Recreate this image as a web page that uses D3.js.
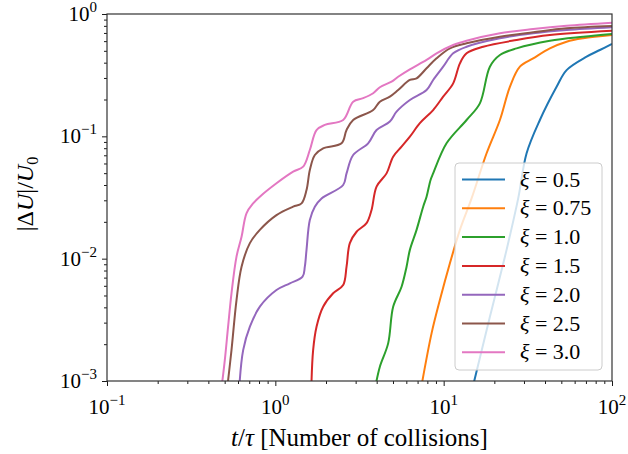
<!DOCTYPE html>
<html>
<head>
<meta charset="utf-8">
<script src="https://cdn.jsdelivr.net/npm/d3@7"></script>
<style>
  body { margin: 0; background: #fff; }
</style>
</head>
<body>
<div id="chart"></div>
<script>
// xi values of the seven runs
var xiLabels = ['0.5', '0.75', '1.0', '1.5', '2.0', '2.5', '3.0'];
var colors = ['#1f77b4', '#ff7f0e', '#2ca02c', '#d62728', '#9467bd', '#8c564b', '#e377c2'];

// [t/tau, |dU|/U0]
var xi05 = [[14.91, 0.0009], [18.82, 0.00335], [23.64, 0.0118], [27.72, 0.0311], [31.09, 0.0727], [37.29, 0.136],
  [46.87, 0.254], [53.74, 0.348], [70.66, 0.448], [84.76, 0.508], [100, 0.569]];
var xi075 = [[7.371, 0.0009], [8.474, 0.00245], [9.494, 0.00459], [10.89, 0.00916], [12.49, 0.0172], [14.65, 0.0311],
  [17.99, 0.0727], [21.58, 0.136], [24.74, 0.254], [28.37, 0.371], [34.02, 0.434], [42.76, 0.524], [53.74, 0.594],
  [67.44, 0.633], [100, 0.673]];
var xi10 = [[3.929, 0.0009], [4.178, 0.00131], [4.68, 0.00203], [5.011, 0.00405], [5.622, 0.0059], [6.02, 0.0086],
  [6.299, 0.0118], [6.902, 0.0172], [7.556, 0.0266], [7.914, 0.0321], [8.359, 0.044], [8.661, 0.0498], [10.4, 0.0877],
  [13.68, 0.136], [16.41, 0.186], [18.82, 0.371], [21.58, 0.462], [27.12, 0.524], [42.76, 0.605], [67.44, 0.652],
  [100, 0.686]];
var xi15 = [[1.637, 0.0009], [1.677, 0.00179], [1.757, 0.00278], [1.923, 0.00405], [2.205, 0.00521], [2.529, 0.00609],
  [2.649, 0.0086], [2.771, 0.0134], [3.038, 0.0166], [3.482, 0.0195], [3.729, 0.025], [3.993, 0.0388], [4.578, 0.0498],
  [5.011, 0.0682], [5.622, 0.0823], [6.299, 0.0993], [7.222, 0.128], [8.661, 0.164], [9.931, 0.211], [11.39, 0.271],
  [12.49, 0.395], [13.68, 0.477], [17.17, 0.54], [27.12, 0.613], [42.76, 0.673], [100, 0.73]];
var xi20 = [[0.611, 0.0009], [0.644, 0.00179], [0.706, 0.00278], [0.809, 0.00405], [1.016, 0.00554], [1.22, 0.00629],
  [1.451, 0.00712], [1.497, 0.0086], [1.532, 0.0118], [1.603, 0.0207], [1.717, 0.0266], [1.882, 0.0311], [2.529, 0.04],
  [2.649, 0.0498], [2.9, 0.0704], [3.559, 0.0877], [3.993, 0.1126], [4.79, 0.132], [5.25, 0.159], [6.299, 0.198],
  [7.914, 0.239], [8.661, 0.289], [9.931, 0.371], [11.39, 0.477], [13.68, 0.54], [21.58, 0.633], [34.02, 0.696],
  [53.74, 0.74], [100, 0.779]];
var xi25 = [[0.519, 0.0009], [0.549, 0.00179], [0.588, 0.00459], [0.63, 0.0086], [0.706, 0.0134], [0.809, 0.0172],
  [1.016, 0.0227], [1.276, 0.0266], [1.431, 0.0283], [1.532, 0.0364], [1.603, 0.0531], [1.717, 0.0704], [1.923, 0.0798],
  [2.474, 0.0877], [2.649, 0.1126], [2.9, 0.136], [3.812, 0.164], [4.178, 0.192], [4.79, 0.211], [5.366, 0.239],
  [6.299, 0.289], [6.902, 0.298], [7.914, 0.36], [9.073, 0.434], [10.89, 0.524], [13.68, 0.576], [21.58, 0.652],
  [34.02, 0.709], [53.74, 0.764], [100, 0.798]];
var xi30 = [[0.48, 0.0009], [0.501, 0.00148], [0.524, 0.00278], [0.549, 0.00521], [0.588, 0.0104], [0.63, 0.0151],
  [0.674, 0.0235], [0.738, 0.0283], [0.809, 0.0321], [1.016, 0.0413], [1.276, 0.0514], [1.463, 0.0565], [1.603, 0.0773],
  [1.757, 0.1126], [1.968, 0.124], [2.529, 0.136], [2.9, 0.192], [3.324, 0.205], [3.812, 0.225], [4.178, 0.252],
  [4.903, 0.28], [5.366, 0.307], [6.299, 0.353], [7.914, 0.421], [9.073, 0.477], [11.39, 0.558], [13.68, 0.605],
  [21.58, 0.696], [34.02, 0.754], [53.74, 0.802], [100, 0.849]];

var seriesData = [xi05, xi075, xi10, xi15, xi20, xi25, xi30];
var xTickVals = [0.1, 1, 10, 100];
var xTickExp = ['\u22121', '0', '1', '2'];
var yTickVals = [0.001, 0.01, 0.1, 1];
var yTickExp = ['\u22123', '\u22122', '\u22121', '0'];

var FONT = '"Liberation Serif", "DejaVu Serif", serif';
var W = 628, H = 454;
var m = { left: 107, right: 16, top: 14, bottom: 73 };
var pw = W - m.left - m.right, ph = H - m.top - m.bottom;

var svg = d3.select('#chart').append('svg').attr('width', W).attr('height', H)
  .attr('font-family', FONT);
var g = svg.append('g').attr('transform', 'translate(' + m.left + ',' + m.top + ')');

var x = d3.scaleLog().domain([0.1, 100]).range([0, pw]);
var y = d3.scaleLog().domain([0.001, 1]).range([ph, 0]);

svg.append('defs').append('clipPath').attr('id', 'clip')
  .append('rect').attr('width', pw).attr('height', ph);

var line = d3.line()
  .x(function (d) { return x(d[0]); })
  .y(function (d) { return y(d[1]); })
  .curve(d3.curveCatmullRom.alpha(0.5));

g.append('g').attr('clip-path', 'url(#clip)')
  .selectAll('path').data(seriesData).enter().append('path')
  .attr('d', line)
  .attr('fill', 'none')
  .attr('stroke', function (d, i) { return colors[i]; })
  .attr('stroke-width', 2);

// axes with minor ticks
function isMajor(v) { return Math.abs(Math.log10(v) - Math.round(Math.log10(v))) < 1e-6; }

var xg = g.append('g').attr('transform', 'translate(0,' + ph + ')')
  .call(d3.axisBottom(x).tickValues(x.ticks()).tickFormat('').tickSizeOuter(0));
var yg = g.append('g')
  .call(d3.axisLeft(y).tickValues(y.ticks()).tickFormat('').tickSizeOuter(0));

xg.select('.domain').remove();
yg.select('.domain').remove();
xg.selectAll('.tick line').attr('stroke', '#000').attr('stroke-width', 0.9)
  .attr('y2', function (d) { return isMajor(d) ? 5 : 3; });
yg.selectAll('.tick line').attr('stroke', '#000').attr('stroke-width', 0.9)
  .attr('x2', function (d) { return isMajor(d) ? -5 : -3; });

// frame
g.append('rect').attr('width', pw).attr('height', ph)
  .attr('fill', 'none').attr('stroke', '#333').attr('stroke-width', 1.2);

// tick labels
xTickVals.forEach(function (v, i) {
  var t = g.append('text').attr('x', x(v)).attr('y', ph + 33)
    .attr('text-anchor', 'middle').attr('font-family', FONT).style('font-size', '21px');
  t.append('tspan').text('10');
  t.append('tspan').attr('dy', -9).style('font-size', '15px').text(xTickExp[i]);
});
yTickVals.forEach(function (v, i) {
  var t = g.append('text').attr('x', -10).attr('y', y(v) + 7)
    .attr('text-anchor', 'end').attr('font-family', FONT).style('font-size', '21px');
  t.append('tspan').text('10');
  t.append('tspan').attr('dy', -9).style('font-size', '15px').text(yTickExp[i]);
});

// axis labels
var xl = svg.append('text').attr('x', m.left + pw / 2).attr('y', 446)
  .attr('text-anchor', 'middle').attr('font-family', FONT).style('font-size', '25px');
xl.append('tspan').style('font-style', 'italic').text('t');
xl.append('tspan').text('/');
xl.append('tspan').style('font-style', 'italic').text('\u03c4');
xl.append('tspan').text(' [Number of collisions]');

var yl = svg.append('text')
  .attr('transform', 'translate(33,194) rotate(-90)')
  .attr('text-anchor', 'middle').attr('font-family', FONT).style('font-size', '24px');
yl.append('tspan').text('|\u0394');
yl.append('tspan').style('font-style', 'italic').text('U');
yl.append('tspan').text('|/');
yl.append('tspan').style('font-style', 'italic').text('U');
yl.append('tspan').attr('dy', 5).style('font-size', '16px').text('0');

// legend
var lg = svg.append('g').attr('transform', 'translate(455,163)');
lg.append('rect').attr('width', 147).attr('height', 207).attr('rx', 4)
  .attr('fill', '#fff').attr('fill-opacity', 0.8)
  .attr('stroke', '#cccccc').attr('stroke-width', 1);
xiLabels.forEach(function (lab, i) {
  var cy = 16.5 + i * 28.8;
  lg.append('line').attr('x1', 7).attr('x2', 50).attr('y1', cy).attr('y2', cy)
    .attr('stroke', colors[i]).attr('stroke-width', 2);
  var t = lg.append('text').attr('x', 65).attr('y', cy + 7)
    .attr('font-family', FONT).style('font-size', '22px');
  t.append('tspan').style('font-style', 'italic').text('\u03be');
  t.append('tspan').text(' = ' + lab);
});
</script>
</body>
</html>
